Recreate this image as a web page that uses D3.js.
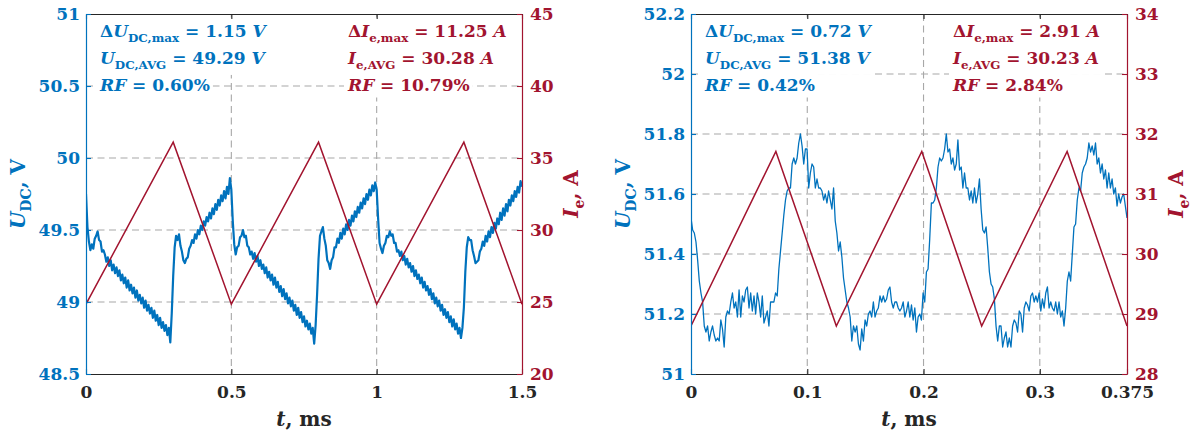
<!DOCTYPE html>
<html>
<head>
<meta charset="utf-8">
<script src="https://cdn.jsdelivr.net/npm/d3@7"></script>
<style>
  html, body { margin: 0; padding: 0; background: #fff; }
  svg { display: block; font-family: "DejaVu Serif", serif; font-weight: bold; }
</style>
</head>
<body>
<svg id="chart" width="1193" height="434"></svg>
<script>
// ---------------- data ----------------
// Left panel: 1.5 ms record, DC-link voltage sampled every 0.005 ms
const timeTicksLeft = [0, 0.5, 1, 1.5];
const voltTicksLeft = [48.5, 49, 49.5, 50, 50.5, 51];
const currTicksLeft = [20, 25, 30, 35, 40, 45];
const sampleStepLeft = 0.005;
const dcVoltageLeft = [
  49.75,49.52,49.42,49.36,49.40,49.37,49.44,49.46,49.49,49.43,49.42,49.35,49.36,
  49.33,49.28,49.31,49.25,49.29,49.22,49.26,49.20,49.24,49.18,49.22,49.15,49.19,49.13,49.17,49.10,
  49.15,49.08,49.12,49.06,49.10,49.03,49.08,49.01,49.05,48.99,49.03,48.96,49.01,48.94,48.98,48.92,
  48.96,48.89,48.94,48.87,48.91,48.84,48.89,48.82,48.86,48.80,48.84,48.77,48.82,48.72,
  48.92,49.18,49.38,49.46,49.43,49.47,49.39,49.35,49.29,49.27,49.30,49.31,49.37,49.39,
  49.43,49.41,49.47,49.44,49.50,49.47,49.53,49.50,49.56,49.53,49.59,49.56,49.62,49.58,49.65,49.61,
  49.68,49.64,49.71,49.67,49.74,49.70,49.77,49.72,49.80,49.75,49.86,
  49.78,49.56,49.40,49.33,49.38,49.39,49.45,49.46,49.50,49.45,49.46,49.39,49.38,49.33,49.35,49.30,
  49.34,49.28,49.32,49.25,49.29,49.23,49.26,49.20,49.24,49.17,49.21,49.15,49.19,49.12,49.17,49.10,
  49.14,49.07,49.11,49.04,49.09,49.02,49.06,48.99,49.03,48.97,49.01,48.94,48.98,48.91,48.96,48.89,
  48.93,48.86,48.90,48.83,48.87,48.81,48.85,48.78,48.82,
  48.71,48.84,49.05,49.30,49.46,49.49,49.52,49.44,49.39,49.29,49.27,49.23,49.29,49.31,49.38,49.38,
  49.44,49.41,49.48,49.44,49.51,49.47,49.54,49.50,49.57,49.53,49.60,49.56,49.63,49.59,49.66,49.62,
  49.69,49.65,49.72,49.68,49.75,49.71,49.78,49.74,49.81,49.77,49.83,
  49.78,49.58,49.41,49.37,49.34,49.39,49.41,49.46,49.45,49.49,49.46,49.47,49.41,49.41,49.35,49.36,49.32,
  49.35,49.29,49.32,49.26,49.30,49.24,49.27,49.21,49.25,49.18,49.22,49.16,49.19,49.13,49.17,49.10,
  49.14,49.08,49.11,49.05,49.09,49.02,49.06,48.99,49.03,48.97,49.01,48.94,48.98,48.91,48.95,48.89,
  48.93,48.86,48.90,48.83,48.88,48.81,48.85,48.78,48.82,
  48.75,48.82,48.96,49.21,49.38,49.45,49.43,49.43,49.36,49.32,49.27,49.28,49.29,49.35,49.37,
  49.42,49.39,49.46,49.42,49.49,49.45,49.52,49.48,49.55,49.51,49.58,49.54,49.62,49.57,49.65,49.60,
  49.68,49.63,49.71,49.67,49.74,49.70,49.77,49.73,49.80,49.76,49.84,49.80
];
// excitation current: turning points of the triangular ripple
const currentTimeLeft = [0, 0.3, 0.5, 0.8, 1.0, 1.3, 1.5];
const currentLeft = [24.85, 36.10, 24.85, 36.10, 24.85, 36.10, 24.85];

// Right panel: 0.375 ms record
const timeTicksRight = [0, 0.1, 0.2, 0.3, 0.375];
const voltTicksRight = [51, 51.2, 51.4, 51.6, 51.8, 52, 52.2];
const currTicksRight = [28, 29, 30, 31, 32, 33, 34];
const dcVoltageRight = [
  51.52,51.48,51.47,51.44,51.38,51.31,51.27,51.24,51.16,51.14,51.16,51.11,51.14,51.16,51.13,51.11,
  51.12,51.11,51.18,51.15,51.09,51.19,51.21,51.20,51.24,51.27,51.22,51.24,51.19,51.28,51.19,51.26,
  51.24,51.28,51.29,51.22,51.27,51.21,51.26,51.20,51.27,51.24,51.19,51.26,51.17,51.19,51.21,51.16,
  51.24,51.24,51.24,51.27,51.26,51.35,51.41,51.47,51.53,51.58,51.61,51.62,51.62,51.70,51.72,51.70,
  51.72,51.77,51.80,51.76,51.70,51.75,51.75,51.62,51.67,51.70,51.69,51.62,51.65,51.62,51.62,51.61,
  51.58,51.60,51.57,51.61,51.58,51.55,51.62,51.51,51.47,51.41,51.44,51.39,51.32,51.28,51.24,51.22,
  51.19,51.11,51.16,51.14,51.16,51.10,51.08,51.15,51.11,51.18,51.16,51.20,51.21,51.19,51.24,51.19,
  51.21,51.22,51.26,51.24,51.26,51.24,51.25,51.28,51.29,51.24,51.22,51.24,51.24,51.22,51.21,51.22,
  51.24,51.19,51.21,
  51.24,51.19,51.23,51.18,51.22,51.14,51.19,51.20,51.18,51.27,51.24,51.34,51.35,51.45,51.57,51.57,
  51.58,51.62,51.69,51.72,51.71,51.72,51.75,51.80,51.74,51.75,51.70,51.72,51.68,51.70,51.78,51.68,
  51.69,51.62,51.67,51.62,51.62,51.58,51.61,51.57,51.62,51.57,51.60,51.65,51.55,51.48,51.47,51.49,
  51.42,51.34,51.30,51.29,51.25,51.16,51.11,51.16,51.16,51.09,51.12,51.14,51.09,51.12,51.09,51.16,
  51.18,51.17,51.14,51.21,51.20,51.14,51.22,51.24,51.23,51.21,51.26,51.27,51.24,51.26,51.24,51.27,
  51.21,51.25,51.22,51.27,51.29,51.22,51.24,51.22,51.21,51.24,51.20,51.24,51.19,51.21,51.16,51.22,
  51.31,51.34,51.31,51.40,51.49,51.50,51.58,51.62,51.61,51.67,51.69,51.70,51.72,51.77,51.74,51.76,
  51.73,51.77,51.70,51.72,51.67,51.70,51.65,51.68,51.62,51.67,51.62,51.65,51.60,51.62,51.56,51.60,
  51.57,51.59,51.60,51.56,51.52
];
const currentTimeRight = [0, 0.073, 0.125, 0.1985, 0.25, 0.3235, 0.375];
const currentRight = [28.80, 31.71, 28.80, 31.71, 28.80, 31.71, 28.80];

// ripple statistics printed in each panel
const voltStatsLeft = ["1.15", "49.29", "0.60"];
const currStatsLeft = ["11.25", "30.28", "10.79"];
const voltStatsRight = ["0.72", "51.38", "0.42"];
const currStatsRight = ["2.91", "30.23", "2.84"];

// ---------------- style ----------------
const BLUE = "#0072BD", RED = "#A2142F", INK = "#262626", GRID = "#a8a8a8";
const TICK_FONT = 17, NOTE_FONT = 17, LABEL_FONT = 20;

const svg = d3.select("#chart");

// Writes mixed bold / bold-italic / subscript runs into a <text> element.
function richText(textSel, parts, size) {
  const shift = size * 0.32;
  let inSub = false;
  parts.forEach(([txt, kind]) => {
    const ts = textSel.append("tspan").text(txt);
    if (kind === "s") {
      ts.attr("font-size", size * 0.7).attr("font-weight", "bold");
      if (!inSub) { ts.attr("dy", shift); inSub = true; }
    } else {
      ts.attr("font-size", size);
      if (inSub) { ts.attr("dy", -shift); inSub = false; }
      if (kind === "i") ts.attr("font-style", "italic");
    }
  });
  return textSel;
}

function voltNotes(s) {
  return [
    [["Δ", "b"], ["U", "i"], ["DC,max", "s"], [" = " + s[0] + " ", "b"], ["V", "i"]],
    [["U", "i"], ["DC,AVG", "s"], [" = " + s[1] + " ", "b"], ["V", "i"]],
    [["RF", "i"], [" = " + s[2] + "%", "b"]]
  ];
}
function currNotes(s) {
  return [
    [["Δ", "b"], ["I", "i"], ["e,max", "s"], [" = " + s[0] + " ", "b"], ["A", "i"]],
    [["I", "i"], ["e,AVG", "s"], [" = " + s[1] + " ", "b"], ["A", "i"]],
    [["RF", "i"], [" = " + s[2] + "%", "b"]]
  ];
}

function drawPanel(cfg) {
  const { left, right, top, bottom } = cfg;
  const x = d3.scaleLinear().domain([cfg.tTicks[0], cfg.tTicks[cfg.tTicks.length - 1]]).range([left, right]);
  const yU = d3.scaleLinear().domain([cfg.uTicks[0], cfg.uTicks[cfg.uTicks.length - 1]]).range([bottom, top]);
  const yI = d3.scaleLinear().domain([cfg.iTicks[0], cfg.iTicks[cfg.iTicks.length - 1]]).range([bottom, top]);

  const g = svg.append("g");
  const clipId = "clip" + cfg.id;
  g.append("clipPath").attr("id", clipId).append("rect")
    .attr("x", left).attr("y", top).attr("width", right - left).attr("height", bottom - top);

  // dashed grid
  const grid = g.append("g").attr("stroke", GRID).attr("stroke-width", 1.1)
    .attr("stroke-dasharray", "7,4.5").attr("fill", "none");
  cfg.tTicks.slice(1, -1).forEach(t => grid.append("line")
    .attr("x1", x(t)).attr("x2", x(t)).attr("y1", top).attr("y2", bottom));
  cfg.uTicks.slice(1, -1).forEach(u => grid.append("line")
    .attr("x1", left).attr("x2", right).attr("y1", yU(u)).attr("y2", yU(u)));

  // annotation blocks with white backing
  const notes = g.append("g");
  [[cfg.voltNotes, cfg.noteXU, BLUE], [cfg.currNotes, cfg.noteXI, RED]].forEach(([lines, nx, col]) => {
    lines.forEach((parts, k) => {
      const base = 36.5 + k * 27;
      const grp = notes.append("g");
      const rect = grp.append("rect").attr("fill", "#fff");
      const t = richText(grp.append("text").attr("x", nx).attr("y", base).attr("fill", col), parts, NOTE_FONT);
      const bb = t.node().getBBox();
      rect.attr("x", bb.x - 3).attr("y", bb.y - 3).attr("width", bb.width + 6).attr("height", bb.height + 6);
    });
  });

  // traces
  const plot = g.append("g").attr("clip-path", `url(#${clipId})`);
  const uLine = d3.line().x((d, i) => x(i * cfg.uStep)).y(d => yU(d));
  plot.append("path").datum(cfg.uData).attr("d", uLine)
    .attr("fill", "none").attr("stroke", BLUE).attr("stroke-width", cfg.uWidth)
    .attr("stroke-linejoin", "round");
  const iLine = d3.line().x((d, i) => x(cfg.iTime[i])).y(d => yI(d));
  plot.append("path").datum(cfg.iData).attr("d", iLine)
    .attr("fill", "none").attr("stroke", RED).attr("stroke-width", 1.5);

  // axes (ticks point inward)
  function styleAxis(sel, col, textCol) {
    sel.attr("font-family", null).attr("font-size", TICK_FONT).attr("font-weight", "bold");
    sel.select(".domain").attr("stroke", col).attr("stroke-width", 1.2);
    sel.selectAll(".tick line").attr("stroke", col).attr("stroke-width", 1.1);
    sel.selectAll(".tick text").attr("fill", textCol);
  }
  const fmt = d => String(d);
  g.append("g").attr("transform", `translate(0,${bottom})`)
    .call(d3.axisBottom(x).tickValues(cfg.tTicks).tickFormat(fmt).tickSizeInner(-5).tickSizeOuter(0).tickPadding(12))
    .call(s => styleAxis(s, INK, INK));
  g.append("g").attr("transform", `translate(0,${top})`)
    .call(d3.axisTop(x).tickValues(cfg.tTicks).tickFormat("").tickSizeInner(-5).tickSizeOuter(0))
    .call(s => styleAxis(s, INK, INK));
  g.append("g").attr("transform", `translate(${left},0)`)
    .call(d3.axisLeft(yU).tickValues(cfg.uTicks).tickFormat(fmt).tickSizeInner(-5).tickSizeOuter(0).tickPadding(6))
    .call(s => styleAxis(s, BLUE, BLUE));
  g.append("g").attr("transform", `translate(${right},0)`)
    .call(d3.axisRight(yI).tickValues(cfg.iTicks).tickFormat(fmt).tickSizeInner(-5).tickSizeOuter(0).tickPadding(8))
    .call(s => styleAxis(s, RED, RED));

  // axis titles
  const midY = (top + bottom) / 2;
  richText(g.append("text").attr("text-anchor", "middle").attr("fill", BLUE)
    .attr("transform", `translate(${left - 61},${midY}) rotate(-90)`),
    [["U", "i"], ["DC", "s"], [", V", "b"]], LABEL_FONT);
  richText(g.append("text").attr("text-anchor", "middle").attr("fill", RED)
    .attr("transform", `translate(${right + 56},${midY}) rotate(-90)`),
    [["I", "i"], ["e", "s"], [", A", "b"]], LABEL_FONT);
  richText(g.append("text").attr("text-anchor", "middle").attr("fill", INK)
    .attr("x", (left + right) / 2).attr("y", 426),
    [["t", "i"], [", ms", "b"]], LABEL_FONT);
}

drawPanel({
  id: "L", left: 86, right: 522, top: 14, bottom: 374,
  tTicks: timeTicksLeft, uTicks: voltTicksLeft, iTicks: currTicksLeft,
  uData: dcVoltageLeft, uStep: sampleStepLeft, uWidth: 2.2,
  iTime: currentTimeLeft, iData: currentLeft,
  voltNotes: voltNotes(voltStatsLeft), currNotes: currNotes(currStatsLeft),
  noteXU: 100, noteXI: 348
});
drawPanel({
  id: "R", left: 691, right: 1127, top: 14, bottom: 374,
  tTicks: timeTicksRight, uTicks: voltTicksRight, iTicks: currTicksRight,
  uData: dcVoltageRight, uStep: 0.375 / (dcVoltageRight.length - 1), uWidth: 1.3,
  iTime: currentTimeRight, iData: currentRight,
  voltNotes: voltNotes(voltStatsRight), currNotes: currNotes(currStatsRight),
  noteXU: 705, noteXI: 953
});
</script>
</body>
</html>
